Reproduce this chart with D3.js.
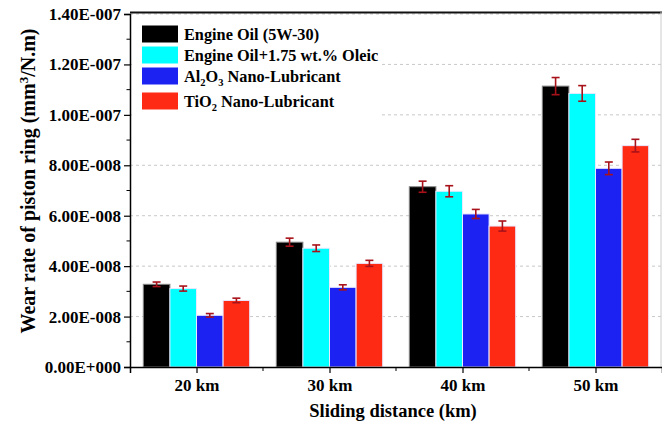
<!DOCTYPE html>
<html>
<head>
<meta charset="utf-8">
<script src="https://cdn.jsdelivr.net/npm/d3@7"></script>
<style>
  body { margin: 0; background: #fff; }
  svg { display: block; font-family: "Liberation Serif", "Times New Roman", serif; font-weight: bold; }
</style>
</head>
<body>
<svg id="chart" width="662" height="425"></svg>
<script>
// data
const categories = ["20 km", "30 km", "40 km", "50 km"];
const seriesNames = ["Engine Oil (5W-30)", "Engine Oil+1.75 wt.% Oleic", "Al2O3 Nano-Lubricant", "TiO2 Nano-Lubricant"];
const seriesColors = ["#000000", "#00ffff", "#1c22f2", "#ff2a14"];

const engineOil = [3.28e-8, 4.95e-8, 7.15e-8, 11.14e-8];
const oleic     = [3.11e-8, 4.71e-8, 6.97e-8, 10.85e-8];
const al2o3     = [2.05e-8, 3.16e-8, 6.07e-8, 7.88e-8];
const tio2      = [2.64e-8, 4.11e-8, 5.59e-8, 8.78e-8];

const engineOilErr = [0.09e-8, 0.16e-8, 0.22e-8, 0.34e-8];
const oleicErr     = [0.10e-8, 0.13e-8, 0.22e-8, 0.31e-8];
const al2o3Err     = [0.07e-8, 0.10e-8, 0.18e-8, 0.25e-8];
const tio2Err      = [0.09e-8, 0.12e-8, 0.20e-8, 0.25e-8];

const yTicks = [0, 2e-8, 4e-8, 6e-8, 8e-8, 10e-8, 12e-8, 14e-8];

const values = [engineOil, oleic, al2o3, tio2];
const errors = [engineOilErr, oleicErr, al2o3Err, tio2Err];

const svg = d3.select("#chart");
const plotLeft = 130, plotRight = 662, plotTop = 14, plotBottom = 367;

// x is category index (1..4), y is wear rate
const x = d3.scaleLinear().domain([0.5, 4.5]).range([plotLeft, plotRight]);
const y = d3.scaleLinear().domain([0, 1.4e-7]).range([plotBottom, plotTop]);
const barW = x(0.2) - x(0);

const fmt = (v) => {
  if (v === 0) return "0.00E+000";
  const [m, e] = d3.format(".2e")(v).split("e");
  const n = +e;
  return m + "E" + (n < 0 ? "-" : "+") + String(Math.abs(n)).padStart(3, "0");
};

// dashed grid lines
svg.append("g")
  .selectAll("line")
  .data(yTicks.filter(d => d > 0))
  .join("line")
  .attr("x1", plotLeft).attr("x2", plotRight)
  .attr("y1", d => y(d)).attr("y2", d => y(d))
  .attr("stroke", "#c8c8c8")
  .attr("stroke-dasharray", "3,3");

// bars
values.forEach((serie, s) => {
  svg.append("g")
    .selectAll("rect")
    .data(serie)
    .join("rect")
    .attr("x", (d, i) => x(i + 1) + (s - 2) * barW)
    .attr("y", d => y(d))
    .attr("width", barW)
    .attr("height", d => y(0) - y(d))
    .attr("fill", seriesColors[s])
    .attr("stroke", s === 0 ? "#888" : "#e8e8ff")
    .attr("stroke-width", 1);
});

// error bars
values.forEach((serie, s) => {
  const g = svg.append("g").attr("stroke", "#a8121a").attr("stroke-width", 1.6);
  serie.forEach((d, i) => {
    const cx = x(i + 1) + (s - 2) * barW + barW / 2;
    const e = errors[s][i];
    g.append("line").attr("x1", cx).attr("x2", cx).attr("y1", y(d + e)).attr("y2", y(d - e));
    g.append("line").attr("x1", cx - 4).attr("x2", cx + 4).attr("y1", y(d + e)).attr("y2", y(d + e));
    g.append("line").attr("x1", cx - 4).attr("x2", cx + 4).attr("y1", y(d - e)).attr("y2", y(d - e));
  });
});

// legend
const legend = svg.append("g");
legend.append("rect")
  .attr("x", plotLeft + 2).attr("y", 18).attr("width", 250).attr("height", 98)
  .attr("fill", "#fff");
const legendY = [34, 55, 76, 101];
seriesNames.forEach((name, i) => {
  legend.append("rect")
    .attr("x", 142).attr("y", legendY[i] - 8.5)
    .attr("width", 36).attr("height", 17)
    .attr("fill", seriesColors[i]);
  const t = legend.append("text")
    .attr("x", 184).attr("y", legendY[i] + 5.5)
    .attr("font-size", 16.3);
  if (name.startsWith("Al2O3")) {
    t.append("tspan").text("Al");
    t.append("tspan").attr("dy", 4).attr("font-size", 10.5).text("2");
    t.append("tspan").attr("dy", -4).text("O");
    t.append("tspan").attr("dy", 4).attr("font-size", 10.5).text("3");
    t.append("tspan").attr("dy", -4).text(" Nano-Lubricant");
  } else if (name.startsWith("TiO2")) {
    t.append("tspan").text("TiO");
    t.append("tspan").attr("dy", 4).attr("font-size", 10.5).text("2");
    t.append("tspan").attr("dy", -4).text(" Nano-Lubricant");
  } else {
    t.text(name);
  }
});

// frame top / right
svg.append("line").attr("x1", plotLeft).attr("x2", plotRight).attr("y1", 12.5).attr("y2", 12.5)
  .attr("stroke", "#111").attr("stroke-width", 2);
svg.append("line").attr("x1", 661).attr("x2", 661).attr("y1", 12).attr("y2", plotBottom)
  .attr("stroke", "#ccc").attr("stroke-width", 1);

// y axis
const yAxis = svg.append("g")
  .attr("transform", `translate(${plotLeft},0)`)
  .call(d3.axisLeft(y).tickValues(yTicks).tickFormat(fmt).tickSize(6).tickPadding(3));
yAxis.append("g")
  .selectAll("line")
  .data(d3.range(1e-8, 1.4e-7, 2e-8))
  .join("line")
  .attr("x1", 0).attr("x2", -3.5)
  .attr("y1", d => y(d)).attr("y2", d => y(d))
  .attr("stroke", "#000");

// x axis
const xAxis = svg.append("g")
  .attr("transform", `translate(0,${plotBottom})`)
  .call(d3.axisBottom(x).tickValues([1, 2, 3, 4]).tickFormat((d) => categories[d - 1]).tickSize(6).tickPadding(6));
xAxis.append("g")
  .selectAll("line")
  .data([1.5, 2.5, 3.5])
  .join("line")
  .attr("x1", d => x(d)).attr("x2", d => x(d))
  .attr("y1", 0).attr("y2", 4)
  .attr("stroke", "#000");

[yAxis, xAxis].forEach(a => {
  a.select(".domain").attr("stroke", "#000").attr("stroke-width", 1.5);
  a.selectAll(".tick line").attr("stroke", "#000").attr("stroke-width", 1.2);
  a.selectAll("text")
    .attr("font-family", "Liberation Serif, serif")
    .attr("font-weight", "bold")
    .attr("font-size", 17)
    .attr("fill", "#000");
});

// axis titles
svg.append("text")
  .attr("x", (plotLeft + plotRight) / 2 - 3).attr("y", 417)
  .attr("text-anchor", "middle")
  .attr("font-size", 18.5)
  .text("Sliding distance (km)");

const yTitle = svg.append("text")
  .attr("transform", "translate(35,181) rotate(-90)")
  .attr("text-anchor", "middle")
  .attr("font-size", 20);
yTitle.append("tspan").text("Wear rate of piston ring (mm");
yTitle.append("tspan").attr("dy", -7).attr("font-size", 13).text("3");
yTitle.append("tspan").attr("dy", 7).text("/N.m)");
</script>
</body>
</html>
